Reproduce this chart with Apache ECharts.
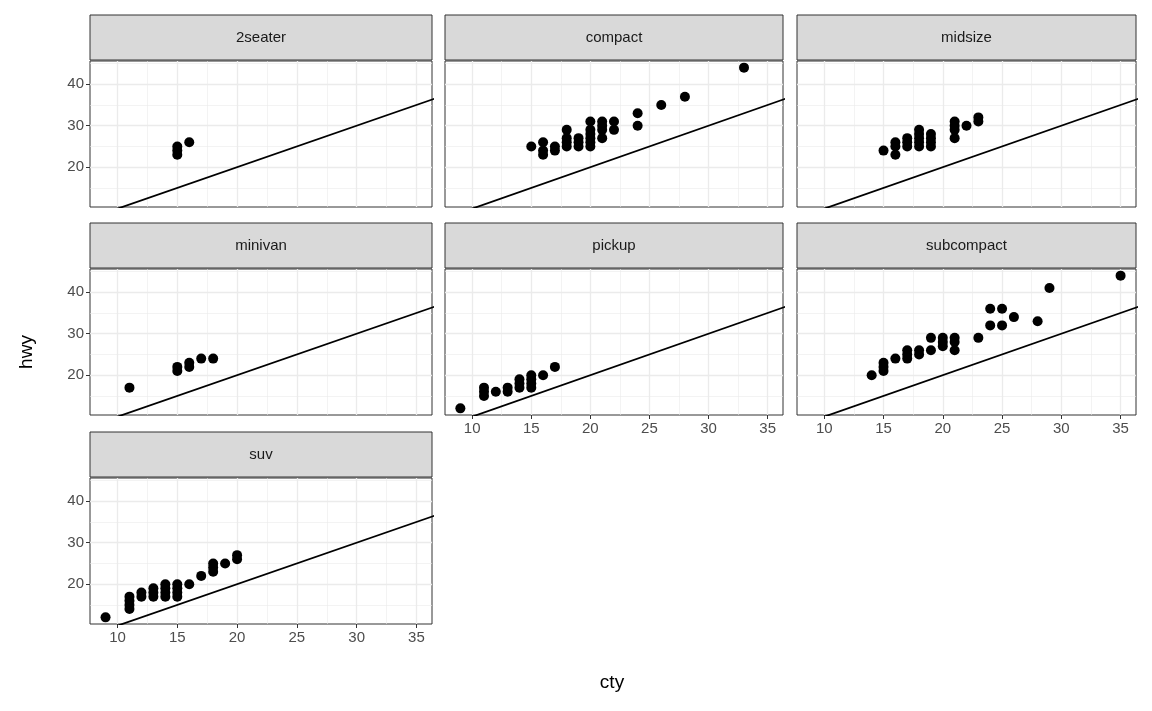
<!DOCTYPE html>
<html>
<head>
<meta charset="utf-8">
<script src="https://cdn.jsdelivr.net/npm/echarts@6/dist/echarts.min.js"></script>
<style>html,body{margin:0;background:#fff}#c{width:1152px;height:711px}</style>
</head>
<body>
<div id="c"></div>
<script>
const classes = ['2seater', 'compact', 'midsize', 'minivan', 'pickup', 'subcompact', 'suv'];
const xTicks = [10, 15, 20, 25, 30, 35];
const xMinor = [12.5, 17.5, 22.5, 27.5, 32.5];
const yTicks = [20, 30, 40];
const yMinor = [15, 25, 35, 45];
const abline = [[0, 0], [50, 50]]; // y = x
const pts = {
    '2seater': [[15,23],[15,24],[15,25],[16,26]],
    compact: [[15,25],[16,23],[16,24],[16,26],[17,24],[17,25],[18,25],[18,26],[18,27],[18,29],[19,25],[19,26],[19,27],[20,25],[20,26],[20,27],[20,28],[20,29],[20,31],[21,27],[21,29],[21,30],[21,31],[22,29],[22,31],[24,30],[24,33],[26,35],[28,37],[33,44]],
    midsize: [[15,24],[16,23],[16,25],[16,26],[17,25],[17,26],[17,27],[18,25],[18,26],[18,27],[18,28],[18,29],[19,25],[19,26],[19,27],[19,28],[21,27],[21,29],[21,30],[21,31],[22,30],[23,31],[23,32]],
    minivan: [[11,17],[15,21],[15,22],[16,22],[16,23],[17,24],[18,24]],
    pickup: [[9,12],[11,15],[11,16],[11,17],[12,16],[13,16],[13,17],[14,17],[14,18],[14,19],[15,17],[15,18],[15,19],[15,20],[16,20],[17,22]],
    subcompact: [[14,20],[15,21],[15,22],[15,23],[16,24],[17,24],[17,25],[17,26],[18,25],[18,26],[19,26],[19,29],[20,27],[20,28],[20,29],[21,26],[21,28],[21,29],[23,29],[24,32],[24,36],[25,32],[25,36],[26,34],[28,33],[29,41],[35,44]],
    suv: [[9,12],[11,14],[11,15],[11,16],[11,17],[12,17],[12,18],[13,17],[13,18],[13,19],[14,17],[14,18],[14,19],[14,20],[15,17],[15,18],[15,19],[15,20],[16,20],[17,22],[18,23],[18,24],[18,25],[19,25],[20,26],[20,27]]
};

const xMin = 7.7, xMax = 36.3, yMin = 10.4, yMax = 45.6;
const lefts = [90, 445, 797], widths = [342, 338, 339];
const tops = [61, 269, 478], ph = 146, stripH = 45;

let grid = [], xAxis = [], yAxis = [], series = [], graphic = [];
const lab = { color: '#4D4D4D', fontSize: 15, fontFamily: 'Liberation Sans' };

classes.forEach((cl, i) => {
    const r = Math.floor(i / 3), c = i % 3;
    const L = lefts[c], T = tops[r], W = widths[c];
    grid.push({ left: L, top: T, width: W, height: ph, show: true, borderColor: '#333', borderWidth: 1 });
    const showX = (r === 2) || (r === 1 && c > 0);
    const showY = c === 0;
    // minor grid axes
    xAxis.push({ type: 'value', gridIndex: i, position: 'bottom', min: xMin, max: xMax, axisLine: { show: false },
        axisTick: { show: false, customValues: xMinor }, axisLabel: { show: false, customValues: xMinor },
        splitLine: { show: true, lineStyle: { color: '#EBEBEB', width: 0.6 } } });
    yAxis.push({ type: 'value', gridIndex: i, position: 'left', min: yMin, max: yMax, axisLine: { show: false },
        axisTick: { show: false, customValues: yMinor }, axisLabel: { show: false, customValues: yMinor },
        splitLine: { show: true, lineStyle: { color: '#EBEBEB', width: 0.6 } } });
    // major axes
    xAxis.push({ type: 'value', gridIndex: i, position: 'bottom', min: xMin, max: xMax, axisLine: { show: false },
        axisTick: { show: showX, customValues: xTicks, length: 4, lineStyle: { color: '#333' } },
        axisLabel: Object.assign({ show: showX, customValues: xTicks, margin: 6 }, lab),
        splitLine: { show: true, lineStyle: { color: '#EBEBEB', width: 1.3 } } });
    yAxis.push({ type: 'value', gridIndex: i, position: 'left', min: yMin, max: yMax, axisLine: { show: false },
        axisTick: { show: showY, customValues: yTicks, length: 4, lineStyle: { color: '#333' } },
        axisLabel: Object.assign({ show: showY, customValues: yTicks, margin: 6 }, lab),
        splitLine: { show: true, lineStyle: { color: '#EBEBEB', width: 1.3 } } });
    series.push({ type: 'line', xAxisIndex: 2 * i + 1, yAxisIndex: 2 * i + 1, data: abline, symbol: 'none', clip: true, silent: true, lineStyle: { color: '#000', width: 1.8 }, z: 3 });
    series.push({ type: 'scatter', xAxisIndex: 2 * i + 1, yAxisIndex: 2 * i + 1, data: pts[cl], symbolSize: 10, itemStyle: { color: '#000', opacity: 1 }, z: 4 });
    graphic.push({ type: 'rect', shape: { x: L, y: T - stripH - 1, width: W, height: stripH }, style: { fill: '#D9D9D9', stroke: '#333', lineWidth: 1 } });
    graphic.push({ type: 'text', x: L + W / 2, y: T - stripH / 2 - 1, style: { text: cl, fill: '#1A1A1A', fontSize: 15, fontFamily: 'Liberation Sans', align: 'center', verticalAlign: 'middle' } });
});

graphic.push({ type: 'text', x: 612, y: 683, style: { text: 'cty', fill: '#000', fontSize: 19, fontFamily: 'Liberation Sans', align: 'center', verticalAlign: 'middle' } });
graphic.push({ type: 'text', x: 27, y: 352, rotation: Math.PI / 2, style: { text: 'hwy', fill: '#000', fontSize: 19, fontFamily: 'Liberation Sans', align: 'center', verticalAlign: 'middle' } });

echarts.init(document.getElementById('c')).setOption({
    animation: false, backgroundColor: '#fff',
    grid: grid, xAxis: xAxis, yAxis: yAxis, series: series, graphic: graphic
});
</script>
</body>
</html>
